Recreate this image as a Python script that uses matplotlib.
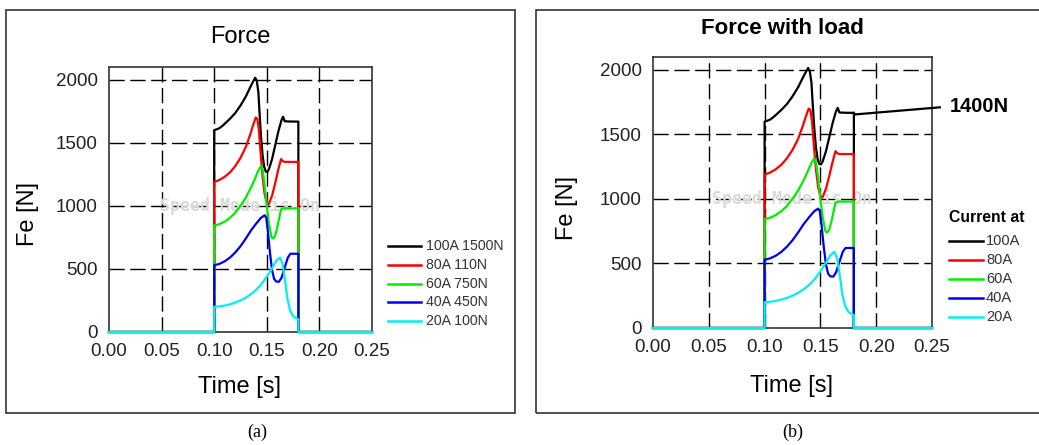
import matplotlib
matplotlib.use('Agg')
import matplotlib.pyplot as plt
from matplotlib.lines import Line2D
from matplotlib.patches import Rectangle

plt.rcParams['font.family'] = ['Liberation Sans', 'DejaVu Sans']

t_100 = [0, 0.1, 0.1, 0.102, 0.105, 0.108, 0.11, 0.115, 0.12, 0.125, 0.13, 0.134, 0.137, 0.139,
         0.1405, 0.142, 0.143, 0.1445, 0.146, 0.1475, 0.149, 0.1505, 0.152, 0.155, 0.158, 0.161,
         0.164, 0.1655, 0.167, 0.172, 0.18, 0.18, 0.25]
f_100 = [0, 0, 1600, 1605, 1615, 1635, 1650, 1690, 1735, 1795, 1865, 1935, 1985, 2015,
         1990, 1900, 1750, 1550, 1400, 1310, 1272, 1268, 1290, 1370, 1480, 1590,
         1680, 1706, 1670, 1668, 1667, 0, 0]

t_80 = [0, 0.1, 0.1, 0.102, 0.105, 0.11, 0.115, 0.12, 0.125, 0.13, 0.134, 0.137, 0.1395, 0.141,
        0.1425, 0.144, 0.146, 0.148, 0.1505, 0.152, 0.155, 0.158, 0.161, 0.1635, 0.165, 0.167,
        0.18, 0.18, 0.25]
f_80 = [0, 0, 1190, 1195, 1205, 1230, 1265, 1315, 1380, 1465, 1560, 1640, 1700, 1690,
        1600, 1430, 1230, 1090, 1005, 1015, 1080, 1180, 1290, 1370, 1355, 1348,
        1348, 0, 0]

t_60 = [0, 0.1, 0.1, 0.102, 0.105, 0.11, 0.115, 0.12, 0.125, 0.13, 0.135, 0.139, 0.142, 0.1445,
        0.146, 0.148, 0.15, 0.152, 0.1545, 0.156, 0.158, 0.16, 0.162, 0.1635, 0.165,
        0.18, 0.18, 0.25]
f_60 = [0, 0, 845, 848, 855, 875, 905, 945, 1000, 1065, 1145, 1220, 1280, 1315,
        1290, 1160, 1000, 860, 750, 740, 765, 830, 910, 970, 980,
        980, 0, 0]

t_40 = [0, 0.1, 0.1, 0.102, 0.105, 0.11, 0.115, 0.12, 0.125, 0.13, 0.135, 0.14, 0.1445, 0.148,
        0.1495, 0.151, 0.153, 0.155, 0.157, 0.159, 0.1615, 0.164, 0.167, 0.17, 0.1725, 0.174,
        0.18, 0.18, 0.25]
f_40 = [0, 0, 530, 533, 540, 560, 590, 630, 680, 740, 805, 860, 905, 925,
        905, 800, 630, 490, 420, 400, 398, 430, 510, 590, 620, 620,
        620, 0, 0]

t_20 = [0, 0.1, 0.1, 0.105, 0.11, 0.115, 0.12, 0.125, 0.13, 0.135, 0.14, 0.145, 0.15, 0.155,
        0.159, 0.1625, 0.165, 0.1675, 0.1695, 0.172, 0.175, 0.18, 0.18, 0.25]
f_20 = [0, 0, 200, 203, 210, 220, 233, 250, 272, 300, 335, 380, 440, 505,
        565, 590, 540, 400, 270, 175, 125, 100, 0, 0]

# 100 A curve continuing under load
t_load = [0.18, 0.181, 0.257]
f_load = [1667, 1655, 1710]

times = [t_100, t_80, t_60, t_40, t_20]
forces = [f_100, f_80, f_60, f_40, f_20]
colors = ['#000000', '#ff0000', '#00ee00', '#0000ee', '#00f0f0']
labels_a = ['100A 1500N', '80A 110N', '60A 750N', '40A 450N', '20A 100N']
labels_b = ['100A', '80A', '60A', '40A', '20A']

xticks = [0.00, 0.05, 0.10, 0.15, 0.20, 0.25]
yticks = [0, 500, 1000, 1500, 2000]

W, H = 1039, 445
fig = plt.figure(figsize=(W / 100, H / 100), dpi=100)


def px(x, y):
    return x / W, 1 - y / H


def setup_axes(rect):
    ax = fig.add_axes(rect)
    ax.set_xlim(0, 0.25)
    ax.set_ylim(0, 2100)
    ax.set_xticks(xticks)
    ax.set_xticklabels(['%.2f' % v for v in xticks])
    ax.set_yticks(yticks)
    ax.tick_params(length=0, labelsize=13.5, labelcolor='#222222', pad=8)
    for sp in ax.spines.values():
        sp.set_color('#333333')
        sp.set_linewidth(1.2)
    for v in xticks[1:-1]:
        ax.axvline(v, color='black', lw=1, dashes=(11, 4), zorder=1)
    for v in yticks[1:]:
        ax.axhline(v, color='black', lw=1, dashes=(11, 4), zorder=1)
    for t, f, c in zip(times, forces, colors):
        ax.plot(t, f, color=c, lw=1.6, zorder=3, clip_on=False)
    ax.text(0.5, 0.476, 'Speed Mode is On', transform=ax.transAxes, ha='center', va='center',
            family='DejaVu Sans Mono', fontweight='bold', fontsize=12, color='#dadada', zorder=2)
    return ax


def panel_box(x0, y0, x1, y1):
    fig.patches.append(Rectangle(px(x0, y1), (x1 - x0) / W, (y1 - y0) / H,
                                 transform=fig.transFigure, fill=False,
                                 edgecolor='#333333', lw=1.2))


# (a) force without load
panel_box(6, 10, 515, 413)
ax1 = setup_axes([109 / W, 1 - 332 / H, 263 / W, 265 / H])
fig.text(*px(240, 37), 'Force', ha='center', va='center', fontsize=17)
fig.text(*px(28, 214), 'Fe [N]', ha='center', va='center', rotation=90, fontsize=17)
fig.text(*px(240, 387), 'Time [s]', ha='center', va='center', fontsize=17)
fig.text(*px(257, 432), '(a)', ha='center', va='center', fontsize=13, family='Liberation Serif')
for i, (c, lab) in enumerate(zip(colors, labels_a)):
    y = 246 + i * 18.8
    fig.lines.append(Line2D([388 / W, 421 / W], [1 - y / H, 1 - y / H], color=c, lw=1.8,
                            transform=fig.transFigure))
    fig.text(*px(426, y), lab, ha='left', va='center', fontsize=10.2, color='#333333')

# (b) force with load
panel_box(536, 10, 1045, 413)
ax2 = setup_axes([653 / W, 1 - 328 / H, 279 / W, 271 / H])
ax2.plot(t_load, f_load, color='black', lw=1.6, zorder=3, clip_on=False)
fig.text(*px(782, 28), 'Force with load', ha='center', va='center', fontsize=16, fontweight='bold')
fig.text(*px(567, 208), 'Fe [N]', ha='center', va='center', rotation=90, fontsize=17)
fig.text(*px(792, 386), 'Time [s]', ha='center', va='center', fontsize=17)
fig.text(*px(793, 432), '(b)', ha='center', va='center', fontsize=13, family='Liberation Serif')
fig.text(*px(950, 106), '1400N', ha='left', va='center', fontsize=14.5, fontweight='bold')
fig.text(*px(949, 218), 'Current at', ha='left', va='center', fontsize=11.3, fontweight='bold')
for i, (c, lab) in enumerate(zip(colors, labels_b)):
    y = 241 + i * 19
    fig.lines.append(Line2D([949 / W, 983 / W], [1 - y / H, 1 - y / H], color=c, lw=1.8,
                            transform=fig.transFigure))
    fig.text(*px(986, y), lab, ha='left', va='center', fontsize=10.5, color='#333333')

fig.savefig('out.png', dpi=100)
